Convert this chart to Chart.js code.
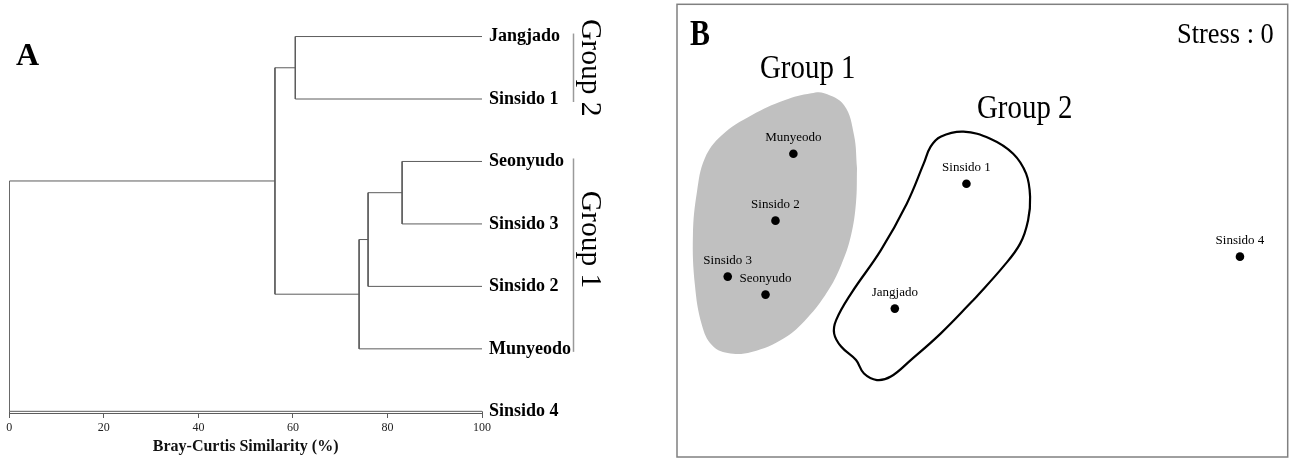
<!DOCTYPE html>
<html>
<head>
<meta charset="utf-8">
<script src="https://cdn.jsdelivr.net/npm/chart.js@4.4.1/dist/chart.umd.min.js"></script>
<style>
  html, body { margin: 0; padding: 0; background: #ffffff; }
  #wrap { position: relative; width: 1292px; height: 464px; overflow: hidden; }
  #panelA { position: absolute; left: 0; top: 0; width: 640px; height: 464px; }
  #panelB { position: absolute; left: 640px; top: 0; width: 652px; height: 464px; }
</style>
</head>
<body>
<div id="wrap">
  <div id="panelA"><canvas id="dendro" width="640" height="464"></canvas></div>
  <div id="panelB"><canvas id="nmds" width="652" height="464"></canvas></div>
</div>
<script>
// ---- A: cluster analysis on Bray-Curtis similarity ----
const leafNames = ['Jangjado', 'Sinsido 1', 'Seonyudo', 'Sinsido 3', 'Sinsido 2', 'Munyeodo', 'Sinsido 4'];
// each merge joins two members (a site or an earlier merge "M<n>") at a similarity level (%)
const mergeLeft = ['Jangjado', 'Seonyudo', 'M2', 'M3', 'M1', 'M5'];
const mergeRight = ['Sinsido 1', 'Sinsido 3', 'Sinsido 2', 'Munyeodo', 'M4', 'Sinsido 4'];
const mergeSimilarity = [60.5, 83.1, 75.9, 74.0, 56.2, 0];
const similarityTicks = [0, 20, 40, 60, 80, 100];
const groupNames = ['Group 2', 'Group 1'];
const groupFirstLeaf = [0, 2];
const groupLastLeaf = [1, 5];
const groupLabelRow = [0.5, 3.25];

// ---- B: NMDS ordination ----
const siteNames = ['Munyeodo', 'Sinsido 1', 'Sinsido 2', 'Sinsido 3', 'Seonyudo', 'Jangjado', 'Sinsido 4'];
const nmdsAxis1 = [-1.90, -0.16, -2.08, -2.56, -2.18, -0.88, 2.59];
const nmdsAxis2 = [0.77, 0.47, 0.10, -0.46, -0.64, -0.78, -0.26];
const group1HullX = [-1.26, -1.27, -1.32, -1.42, -1.56, -1.76, -1.99, -2.32, -2.56, -2.72, -2.82, -2.89, -2.91, -2.87, -2.79, -2.62, -2.32, -1.99, -1.72, -1.59, -1.39, -1.29, -1.26];
const group1HullY = [0.625, 0.285, -0.045, -0.345, -0.615, -0.875, -1.075, -1.215, -1.225, -1.145, -0.945, -0.545, -0.045, 0.385, 0.725, 0.955, 1.155, 1.305, 1.375, 1.375, 1.255, 0.955, 0.625];
const group2HullX = [-0.09, -0.42, -0.72, -0.92, -1.06, -1.19, -1.27, -1.42, -1.49, -1.47, -1.32, -1.02, -0.76, -0.59, -0.52, -0.42, -0.19, 0.08, 0.31, 0.44, 0.48, 0.46, 0.38, 0.21, -0.09];
const group2HullY = [-0.695, -1.03, -1.295, -1.46, -1.495, -1.43, -1.295, -1.16, -1.03, -0.895, -0.63, -0.195, 0.27, 0.67, 0.84, 0.94, 0.99, 0.92, 0.77, 0.57, 0.34, 0.105, -0.13, -0.36, -0.695];
const stressValue = 0;

const SERIF = "'Liberation Serif', 'Times New Roman', 'DejaVu Serif', serif";
const treeColor = '#5c5c5c';

// Build the dendrogram as one polyline per merge: child -> merge level -> other child
const nodes = {};
leafNames.forEach((name, i) => { nodes[name] = { x: 100, y: i }; });
const treeSegments = mergeLeft.map((leftId, i) => {
  const a = nodes[leftId];
  const b = nodes[mergeRight[i]];
  const s = mergeSimilarity[i];
  nodes['M' + (i + 1)] = { x: s, y: (a.y + b.y) / 2 };
  return [{ x: a.x, y: a.y }, { x: s, y: a.y }, { x: s, y: b.y }, { x: b.x, y: b.y }];
});

const dendroDecor = {
  id: 'dendroDecor',
  afterDraw(chart) {
    const ctx = chart.ctx;
    const xs = chart.scales.x, ys = chart.scales.y;
    const area = chart.chartArea;
    ctx.save();
    // closing edges between the outgroup leaf and the axis
    ctx.strokeStyle = treeColor;
    ctx.lineWidth = 1;
    const yLast = ys.getPixelForValue(leafNames.length - 1);
    [0, 100].forEach(v => {
      const px = Math.round(xs.getPixelForValue(v)) + 0.5;
      ctx.beginPath();
      ctx.moveTo(px, yLast);
      ctx.lineTo(px, area.bottom);
      ctx.stroke();
    });
    // group brackets with rotated captions
    groupNames.forEach((name, g) => {
      const top = ys.getPixelForValue(groupFirstLeaf[g]) - 3;
      const bottom = ys.getPixelForValue(groupLastLeaf[g]) + 3;
      ctx.strokeStyle = '#9a9a9a';
      ctx.lineWidth = 1.5;
      ctx.beginPath();
      ctx.moveTo(573.5, top);
      ctx.lineTo(573.5, bottom);
      ctx.stroke();
      ctx.save();
      ctx.translate(590, ys.getPixelForValue(groupLabelRow[g]));
      ctx.rotate(Math.PI / 2);
      ctx.fillStyle = '#000';
      ctx.font = '29.5px ' + SERIF;
      ctx.textAlign = 'center';
      ctx.textBaseline = 'middle';
      ctx.fillText(name, 0, 0);
      ctx.restore();
    });
    // panel letter
    ctx.fillStyle = '#000';
    ctx.font = 'bold 32px ' + SERIF;
    ctx.textAlign = 'left';
    ctx.textBaseline = 'alphabetic';
    ctx.fillText('A', 16, 65);
    ctx.restore();
  }
};

new Chart(document.getElementById('dendro'), {
  type: 'scatter',
  data: {
    datasets: treeSegments.map((seg, i) => ({
      label: 'merge ' + (i + 1),
      data: seg,
      showLine: true,
      borderColor: treeColor,
      borderWidth: 1,
      pointRadius: 0,
      tension: 0,
      fill: false
    }))
  },
  options: {
    responsive: false,
    animation: false,
    devicePixelRatio: 1,
    layout: { padding: { left: 9.3, top: 14.4, right: 0, bottom: 0 } },
    plugins: { legend: { display: false }, tooltip: { enabled: false } },
    scales: {
      x: {
        type: 'linear',
        position: 'bottom',
        min: 0,
        max: 100,
        afterBuildTicks: s => { s.ticks = similarityTicks.map(v => ({ value: v })); },
        afterFit: s => { s.height = 51; },
        ticks: { font: { family: SERIF, size: 12 }, color: '#222', padding: 3, maxRotation: 0, autoSkip: false },
        grid: { display: true, drawOnChartArea: false, drawTicks: true, tickLength: 5, color: treeColor },
        border: { display: true, color: treeColor, width: 1 },
        title: {
          display: true,
          text: 'Bray-Curtis Similarity (%)',
          font: { family: SERIF, size: 16, weight: 'bold' },
          color: '#111',
          padding: { top: 0, bottom: 8 }
        }
      },
      y: {
        type: 'linear',
        position: 'right',
        reverse: true,
        min: -0.3,
        max: 6.027,
        afterBuildTicks: s => { s.ticks = leafNames.map((_, i) => ({ value: i })); },
        afterFit: s => { s.width = 158; },
        ticks: {
          callback: v => leafNames[v],
          font: { family: SERIF, size: 18, weight: 'bold' },
          color: '#000',
          padding: 7,
          autoSkip: false,
          crossAlign: 'near'
        },
        grid: { display: false, drawTicks: false },
        border: { display: false }
      }
    }
  },
  plugins: [dendroDecor]
});

// ---- NMDS plot ----
function compressedText(ctx, text, x, y, font, sx) {
  ctx.save();
  ctx.translate(x, y);
  ctx.scale(sx, 1);
  ctx.font = font;
  ctx.textAlign = 'left';
  ctx.textBaseline = 'alphabetic';
  ctx.fillText(text, 0, 0);
  ctx.restore();
}

const nmdsDecor = {
  id: 'nmdsDecor',
  afterDatasetsDraw(chart) {
    const ctx = chart.ctx;
    const a = chart.chartArea;
    ctx.save();
    // site labels above each point
    const meta = chart.getDatasetMeta(0);
    ctx.fillStyle = '#000';
    ctx.font = '13px ' + SERIF;
    ctx.textAlign = 'center';
    ctx.textBaseline = 'alphabetic';
    meta.data.forEach((pt, i) => {
      ctx.fillText(siteNames[i], pt.x, pt.y - 13);
    });
    // frame
    ctx.strokeStyle = '#808080';
    ctx.lineWidth = 1.5;
    ctx.strokeRect(a.left, a.top, a.right - a.left, a.bottom - a.top);
    // captions
    ctx.fillStyle = '#000';
    compressedText(ctx, 'B', a.left + 13, a.top + 41, 'bold 36px ' + SERIF, 0.83);
    compressedText(ctx, 'Group 1', a.left + 83, a.top + 74, '34px ' + SERIF, 0.85);
    compressedText(ctx, 'Group 2', a.left + 300, a.top + 114, '34px ' + SERIF, 0.85);
    compressedText(ctx, 'Stress : ' + stressValue, a.left + 500, a.top + 39, '30px ' + SERIF, 0.88);
    ctx.restore();
  }
};

new Chart(document.getElementById('nmds'), {
  type: 'scatter',
  data: {
    datasets: [
      {
        label: 'Sites',
        data: siteNames.map((_, i) => ({ x: nmdsAxis1[i], y: nmdsAxis2[i] })),
        pointRadius: 4.3,
        pointBackgroundColor: '#000',
        pointBorderColor: '#000',
        pointBorderWidth: 0,
        showLine: false,
        order: 0
      },
      {
        label: 'Group 2',
        data: group2HullX.map((x, i) => ({ x, y: group2HullY[i] })),
        showLine: true,
        borderColor: '#000',
        borderWidth: 2.2,
        pointRadius: 0,
        tension: 0.4,
        fill: false,
        order: 1
      },
      {
        label: 'Group 1',
        data: group1HullX.map((x, i) => ({ x, y: group1HullY[i] })),
        showLine: true,
        borderColor: 'rgba(0,0,0,0)',
        borderWidth: 0,
        backgroundColor: '#c0c0c0',
        pointRadius: 0,
        tension: 0.4,
        fill: 'shape',
        order: 2
      }
    ]
  },
  options: {
    responsive: false,
    animation: false,
    devicePixelRatio: 1,
    layout: { padding: { left: 37, right: 1, top: 4, bottom: 7 } },
    plugins: { legend: { display: false }, tooltip: { enabled: false } },
    elements: { line: { capBezierPoints: false } },
    scales: {
      x: { type: 'linear', display: false, min: -3.07, max: 3.07 },
      y: { type: 'linear', display: false, min: -2.265, max: 2.265 }
    }
  },
  plugins: [nmdsDecor]
});
</script>
</body>
</html>
